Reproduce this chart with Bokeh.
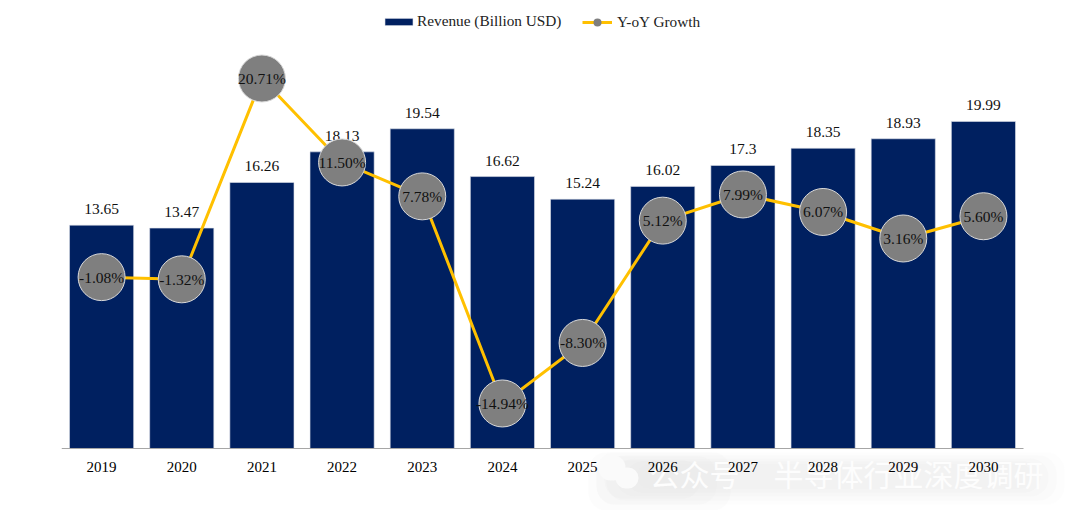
from bokeh.plotting import figure
from bokeh.models import (ColumnDataSource, Range1d, Legend, LegendItem, Label, BoxAnnotation, FixedTicker)
from bokeh.core.properties import value
from bokeh.embed import file_html
from bokeh.resources import INLINE

years = ["2019", "2020", "2021", "2022", "2023", "2024", "2025", "2026", "2027", "2028", "2029", "2030"]
revenue = [13.65, 13.47, 16.26, 18.13, 19.54, 16.62, 15.24, 16.02, 17.3, 18.35, 18.93, 19.99]
growth = [-1.08, -1.32, 20.71, 11.50, 7.78, -14.94, -8.30, 5.12, 7.99, 6.07, 3.16, 5.60]
revenue_labels = ["13.65", "13.47", "16.26", "18.13", "19.54", "16.62", "15.24", "16.02", "17.3", "18.35", "18.93", "19.99"]
growth_labels = ["-1.08%", "-1.32%", "20.71%", "11.50%", "7.78%", "-14.94%", "-8.30%", "5.12%", "7.99%", "6.07%", "3.16%", "5.60%"]

FONT = "Liberation Serif"
W, H = 1070, 510
FL, FT = 61, 10
pos = list(range(len(years)))
src = ColumnDataSource(dict(x=pos, rev=revenue, gr=growth, rl=revenue_labels, gl=growth_labels))

# the frame runs to the foot and right edge of the picture; the category axis sits at revenue 0 inside it
p = figure(width=W, height=H, output_backend="svg", toolbar_location=None,
           x_range=Range1d(-0.5, 12.086), y_range=Range1d(-3.79, 26.77),
           min_border_left=FL, min_border_right=0, min_border_top=FT, min_border_bottom=0)
p.extra_y_ranges = {"g": Range1d(-26.68, 28.17)}
p.outline_line_color = None
p.grid.visible = False
p.yaxis.visible = False

ax = p.xaxis[0]
ax.fixed_location = 0
ax.bounds = (-0.5, 11.5)
ax.ticker = FixedTicker(ticks=pos)
ax.major_label_overrides = dict(zip(pos, years))
ax.axis_line_color = "#A6A6A6"
ax.axis_line_width = 1
ax.major_tick_line_color = None
ax.minor_tick_line_color = None
ax.major_label_text_font = FONT
ax.major_label_text_font_size = "15px"
ax.major_label_text_color = "#000000"
ax.major_label_standoff = 8


def box(l, r, t, b, color, alpha, radius):
    p.add_layout(BoxAnnotation(left=l - FL, right=r - FL, top=H - t, bottom=H - b,
                               left_units="screen", right_units="screen", top_units="screen", bottom_units="screen",
                               fill_color=color, fill_alpha=alpha, line_color=None, border_radius=radius, level="underlay"))


# faint, soft watermark under the axis labels
for (l, r, t, b, a) in [(596, 1064, 452, 504, 0.07), (606, 1056, 455, 500, 0.08), (616, 1048, 458, 496, 0.09),
                        (626, 1040, 461, 492, 0.1), (636, 1032, 464, 488, 0.1),
                        (588, 730, 452, 510, 0.08), (596, 716, 456, 504, 0.1), (604, 700, 460, 498, 0.12)]:
    box(l, r, t, b, "#DEDEDE", a, 18)
for (l, r, t, b) in [(598, 625, 455, 480), (615, 638, 467, 488)]:
    box(l, r, t, b, "#FAFAFA", 1, 12)
for (x, txt) in [(649, "公众号"), (773, "半导体行业深度调研")]:
    p.add_layout(Label(x=x - FL, y=H - 472, x_units="screen", y_units="screen", text=txt,
                       text_font="Noto Sans CJK SC", text_font_size="30px", text_color="#FDFDFD",
                       text_baseline="middle", level="underlay"))

bars = p.vbar(x="x", bottom=0, top="rev", width=0.8, source=src, fill_color="#002060", line_color="#DDE1EA", line_width=0.6)
p.text(x="x", y="rev", text="rl", source=src, text_font=value(FONT), text_font_size="15.5px",
       text_color="#111111", text_align="center", text_baseline="middle", y_offset=-16)

line = p.line(x="x", y="gr", source=src, y_range_name="g", line_color="#FFC000", line_width=3)
p.scatter(x="x", y="gr", source=src, y_range_name="g", size=47, fill_color="#7F7F7F",
          line_color="#D9D9D9", line_width=1)
p.text(x="x", y="gr", text="gl", source=src, y_range_name="g", text_font=value(FONT), text_font_size="15.5px",
       text_color="#111111", text_align="center", text_baseline="middle")

# legend key only: same series shifted out of the visible range, so just the legend shows it
key_src = ColumnDataSource(dict(x=pos, gr=[100 + g for g in growth]))
key = p.scatter(x="x", y="gr", source=key_src, y_range_name="g", size=8, fill_color="#7F7F7F", line_color=None)

common = dict(orientation="horizontal", background_fill_alpha=0, border_line_color=None,
              label_text_font=FONT, label_text_font_size="15.3px", label_text_color="#222222",
              padding=0, margin=0)
leg1 = Legend(items=[LegendItem(label="Revenue (Billion USD)", renderers=[bars])], location=(320, 480),
              glyph_width=35, glyph_height=9, label_standoff=1, **common)
leg2 = Legend(items=[LegendItem(label="Y-oY Growth", renderers=[line, key])], location=(521, 478),
              glyph_width=30, glyph_height=20, label_standoff=5, **common)
p.add_layout(leg1, "center")
p.add_layout(leg2, "center")

open("out.html", "w").write(file_html(p, INLINE))
